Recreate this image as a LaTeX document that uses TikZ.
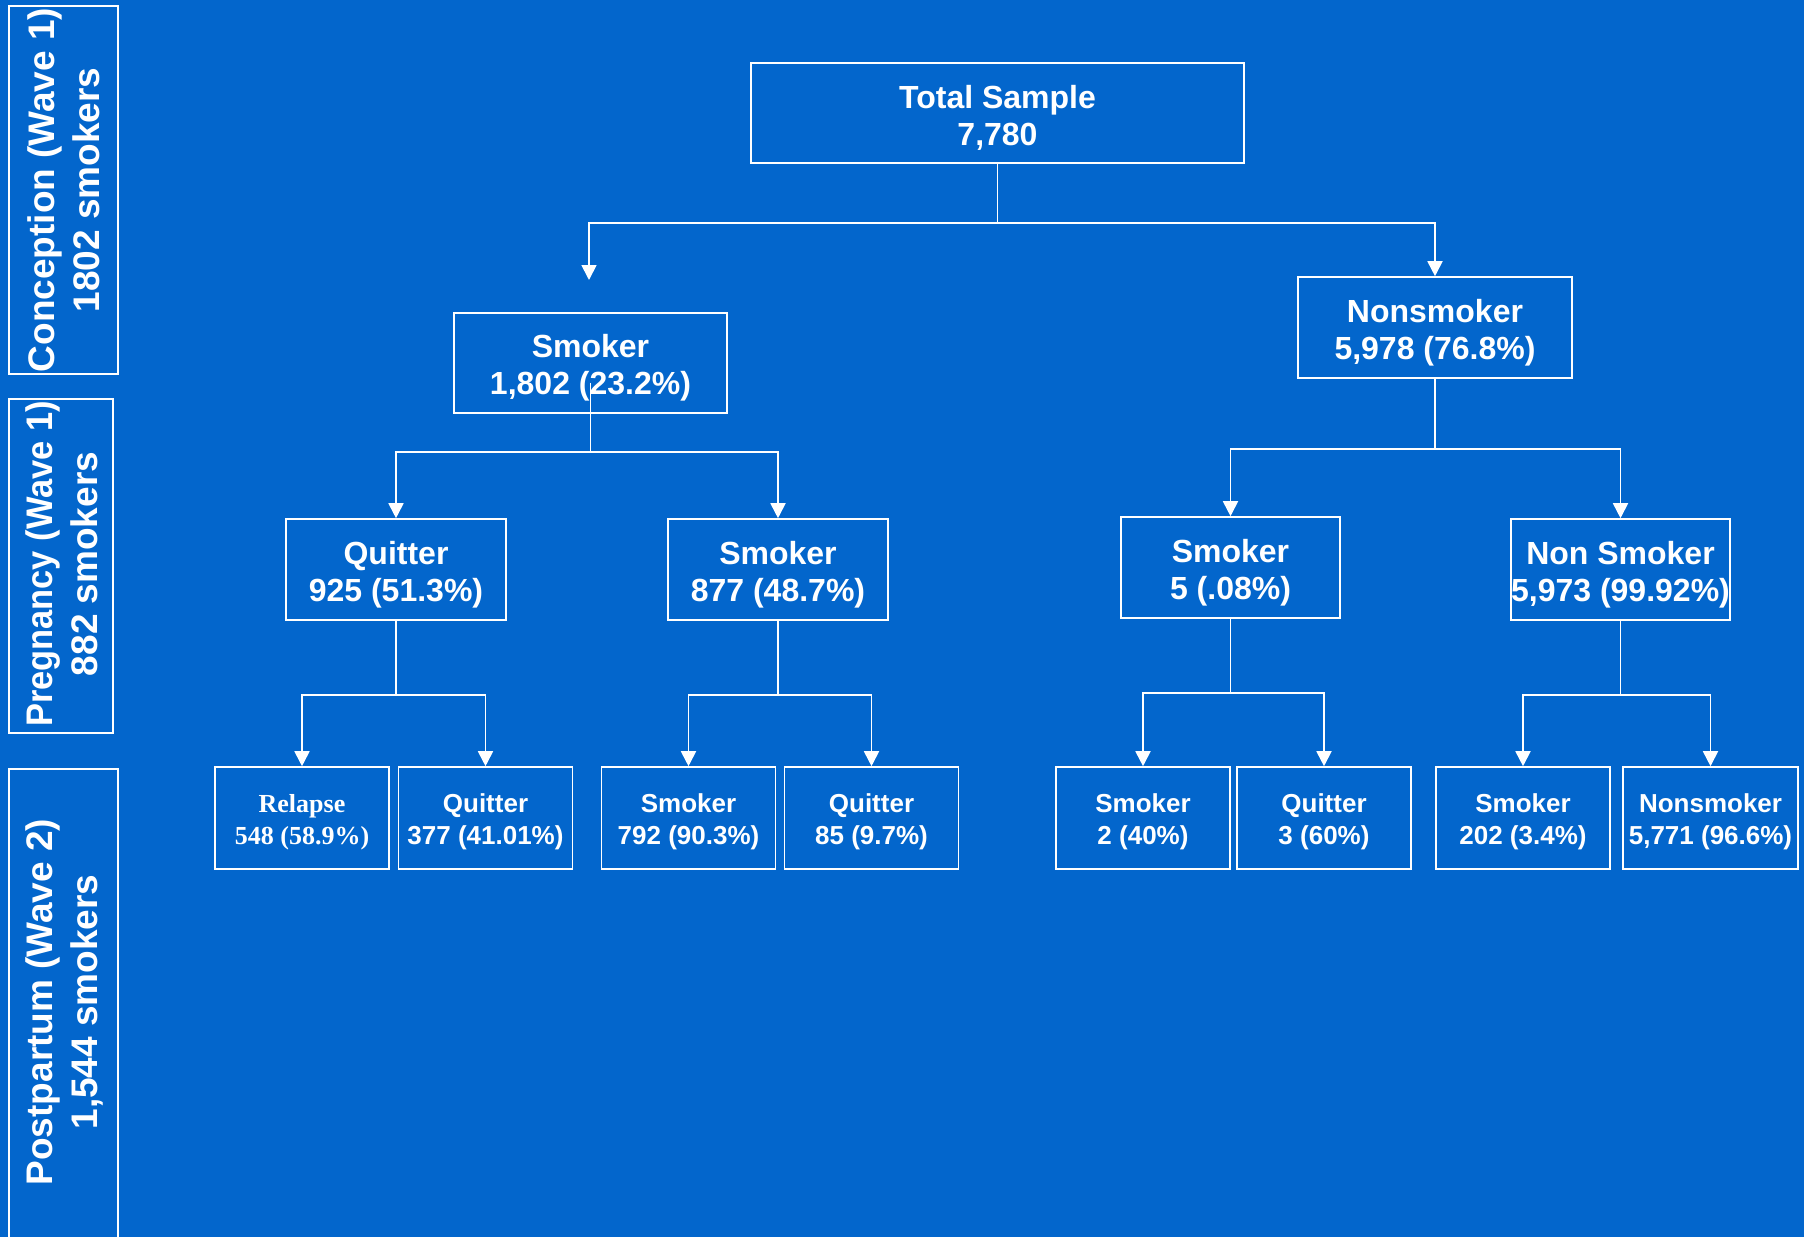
\documentclass[tikz,border=0pt]{standalone}
\usepackage{fontspec}
\setmainfont{Liberation Sans}
\newfontfamily\serifbox{Liberation Serif}
\usetikzlibrary{arrows.meta}
\definecolor{bgblue}{RGB}{3,102,204}
\tikzset{
  box/.style={draw=white, line width=1.6pt, inner sep=0pt},
  bigtxt/.style={inner sep=0pt, align=center, text=white,
    font=\bfseries\fontsize{32}{37}\selectfont},
  smalltxt/.style={inner sep=0pt, align=center, text=white,
    font=\bfseries\fontsize{26}{32}\selectfont},
  smallbox/.style={box, minimum width=174pt, minimum height=102pt},
  sidebox/.style={draw=white, line width=1.6pt},
  sidetext/.style={rotate=90, align=center, text=white, inner sep=0pt,
    font=\bfseries\fontsize{37}{45}\selectfont},
  conn/.style={draw=white, line width=1.8pt, -{Triangle[width=15pt,length=15pt]}}
}
\begin{document}
\begin{tikzpicture}[x=1pt,y=-1pt]
\fill[bgblue] (0,0) rectangle (1804,1237);
\useasboundingbox (0,0) rectangle (1804,1237);
% side labels
\draw[sidebox] (9,6) rectangle (118,374);
\node[sidetext] (lconc) at (64,190) {Conception (Wave 1)\\1802 smokers};
\draw[sidebox] (9,399) rectangle (113,733);
\node[sidetext] (lpreg) at (62,564) {\scalebox{0.93}[1]{Pregnancy (Wave 1)}\\882 smokers};
\draw[sidebox] (9,769) rectangle (118,1245);
\node[sidetext] (lpost) at (64,1002) {Postpartum (Wave 2)\\1,544 smokers};
% level 0
\node[box, minimum width=493pt, minimum height=100pt] (tot) at (997.5,113) {};
\node[bigtxt] (ttot) at ([yshift=-5pt]tot.center) {Total Sample\\7,780};
% level 1
\node[box, minimum width=273pt, minimum height=100pt] (smk) at (590.5,363) {};
\node[bigtxt] (tsmk) at ([yshift=-5pt]smk.center) {Smoker\\1,802 (23.2\%)};
\node[box, minimum width=274pt, minimum height=101pt] (non) at (1435,327.5) {};
\node[bigtxt] (tnon) at ([yshift=-5pt]non.center) {Nonsmoker\\5,978 (76.8\%)};
\coordinate (smkin) at (589,280);
% level 2
\node[box, minimum width=220pt, minimum height=101pt] (q1) at (396,569.5) {};
\node[bigtxt] (tq1) at ([yshift=-5pt]q1.center) {Quitter\\925 (51.3\%)};
\node[box, minimum width=220pt, minimum height=101pt] (s1) at (778,569.5) {};
\node[bigtxt] (ts1) at ([yshift=-5pt]s1.center) {Smoker\\877 (48.7\%)};
\node[box, minimum width=219pt, minimum height=101pt] (s2) at (1230.5,567.5) {};
\node[bigtxt] (ts2) at ([yshift=-5pt]s2.center) {Smoker\\5 (.08\%)};
\node[box, minimum width=219pt, minimum height=101pt] (n2) at (1620.5,569.5) {};
\node[bigtxt] (tn2) at ([yshift=-5pt]n2.center) {Non Smoker\\5,973 (99.92\%)};
% level 3
\node[smallbox] (r) at (302,818) {};
\node[smalltxt, font=\serifbox\bfseries\fontsize{26}{32}\selectfont] (tr) at ([yshift=-4pt]r.center) {Relapse\\548 (58.9\%)};
\node[smallbox] (q3a) at (485.5,818) {};
\node[smalltxt] (tq3a) at ([yshift=-4pt]q3a.center) {Quitter\\377 (41.01\%)};
\node[smallbox] (s3) at (688.5,818) {};
\node[smalltxt] (ts3) at ([yshift=-4pt]s3.center) {Smoker\\792 (90.3\%)};
\node[smallbox] (q3b) at (871.5,818) {};
\node[smalltxt] (tq3b) at ([yshift=-4pt]q3b.center) {Quitter\\85 (9.7\%)};
\node[smallbox] (s4) at (1143,818) {};
\node[smalltxt] (ts4) at ([yshift=-4pt]s4.center) {Smoker\\2 (40\%)};
\node[smallbox] (q4) at (1324,818) {};
\node[smalltxt] (tq4) at ([yshift=-4pt]q4.center) {Quitter\\3 (60\%)};
\node[smallbox] (s5) at (1523,818) {};
\node[smalltxt] (ts5) at ([yshift=-4pt]s5.center) {Smoker\\202 (3.4\%)};
\node[smallbox, minimum width=175pt] (n5) at (1710.5,818) {};
\node[smalltxt] (tn5) at ([yshift=-4pt]n5.center) {Nonsmoker\\5,771 (96.6\%)};
% connectors
\draw[conn] (tot.south) -- ++(0,59) -| (smkin);
\draw[conn] (tot.south) -- ++(0,59) -| (non.north);
\draw[conn] ([yshift=31pt]smk.south) -- ++(0,69) -| (q1.north);
\draw[conn] ([yshift=31pt]smk.south) -- ++(0,69) -| (s1.north);
\draw[conn] (non.south) -- ++(0,70) -| (s2.north);
\draw[conn] (non.south) -- ++(0,70) -| (n2.north);
\draw[conn] (q1.south) -- ++(0,74) -| (r.north);
\draw[conn] (q1.south) -- ++(0,74) -| (q3a.north);
\draw[conn] (s1.south) -- ++(0,74) -| (s3.north);
\draw[conn] (s1.south) -- ++(0,74) -| (q3b.north);
\draw[conn] (s2.south) -- ++(0,74) -| (s4.north);
\draw[conn] (s2.south) -- ++(0,74) -| (q4.north);
\draw[conn] (n2.south) -- ++(0,74) -| (s5.north);
\draw[conn] (n2.south) -- ++(0,74) -| (n5.north);
\end{tikzpicture}
\end{document}
